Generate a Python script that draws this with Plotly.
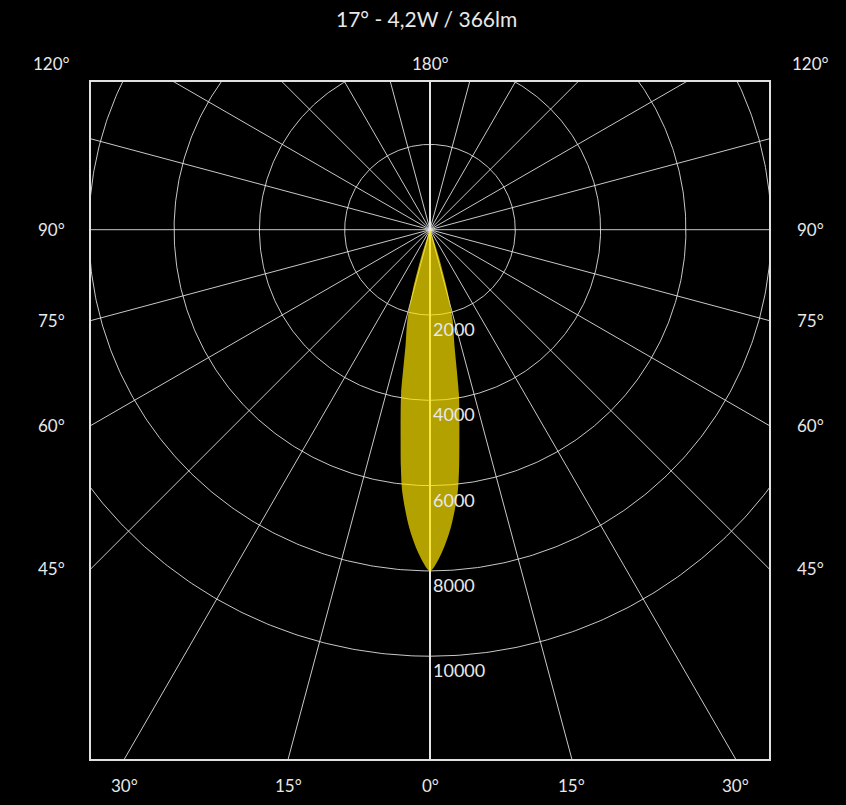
import numpy as np
import plotly.graph_objects as go

TITLE = "17° - 4,2W / 366lm"

# Luminous intensity (cd) against angle from the beam axis (deg)
beam_angles = [0, 2, 4, 6, 7, 8, 9, 10, 12, 14, 16, 18, 20, 25, 30, 45, 60, 90]
beam_intensity = [8000, 7600, 7000, 6200, 5600, 4950, 4400, 3900, 2750, 2200, 1450, 620, 170, 40, 20, 8, 3, 0]

ring_values = [2000, 4000, 6000, 8000, 10000]
ring_labels = ["2000", "4000", "6000", "8000", "10000"]
spoke_angles = list(range(0, 360, 15))
axis_angles = [0, 180]

side_angles = [90, 75, 60, 45]
side_labels = ["90°", "75°", "60°", "45°"]
bottom_angles = [-30, -15, 0, 15, 30]
bottom_labels = ["30°", "15°", "0°", "15°", "30°"]
corner_label = "120°"
top_label = "180°"

# visible window of the diagram (cd units)
X_HALF = 7948
Y_TOP = 3463
Y_BOTTOM = 12410

FONT = "Lato"
TXT = "#e8e8e8"
GRID = "rgba(235,235,235,0.85)"


def polar_xy(theta_deg, r):
    t = np.radians(np.asarray(theta_deg, dtype=float))
    r = np.asarray(r, dtype=float)
    return r * np.sin(t), -r * np.cos(t)


fig = go.Figure()

# spokes
sx, sy = [], []
for a in spoke_angles:
    if a in axis_angles:
        continue
    x1, y1 = polar_xy(a, 30000)
    sx += [0, float(x1), None]
    sy += [0, float(y1), None]
fig.add_trace(go.Scatter(x=sx, y=sy, mode="lines", line=dict(color=GRID, width=1),
                         hoverinfo="skip", showlegend=False))

# main vertical axis (0° / 180°)
ax_x, ax_y = [], []
for a in axis_angles:
    x1, y1 = polar_xy(a, 30000)
    ax_x += [0, float(x1), None]
    ax_y += [0, float(y1), None]
fig.add_trace(go.Scatter(x=ax_x, y=ax_y, mode="lines", line=dict(color="rgba(240,240,240,0.95)", width=2),
                         hoverinfo="skip", showlegend=False))

# rings
phi = np.linspace(0, 360, 721)
cx, cy = [], []
for rv in ring_values:
    x, y = polar_xy(phi, np.full_like(phi, rv))
    cx += list(x) + [None]
    cy += list(y) + [None]
fig.add_trace(go.Scatter(x=cx, y=cy, mode="lines", line=dict(color=GRID, width=1),
                         hoverinfo="skip", showlegend=False))

# beam lobe (symmetric)
ang = np.array(beam_angles, dtype=float)
inten = np.array(beam_intensity, dtype=float)
full_ang = np.concatenate([-ang[::-1], ang[1:]])
full_int = np.concatenate([inten[::-1], inten[1:]])
lx, ly = polar_xy(full_ang, full_int)
fig.add_trace(go.Scatter(x=lx, y=ly, mode="lines", fill="toself",
                         fillcolor="rgba(255,230,0,0.70)",
                         line=dict(color="rgba(255,228,0,0.0)", width=0, shape="spline", smoothing=0.8),
                         hoverinfo="skip", showlegend=False))

ann = []
# ring value labels
for rv, lab in zip(ring_values, ring_labels):
    ann.append(dict(x=0, y=-rv, xref="x", yref="y", text=lab, showarrow=False,
                    xanchor="left", yanchor="middle", xshift=1, yshift=-14,
                    font=dict(family=FONT, size=18, color=TXT)))
# side labels
for a, lab in zip(side_angles, side_labels):
    t = np.radians(a)
    yv = -X_HALF * np.cos(t) / np.sin(t)
    for px, sh in [(0, -40), (1, 41)]:
        ann.append(dict(x=px, y=float(yv), xref="paper", yref="y", text=lab, showarrow=False,
                        xanchor="center", yanchor="middle", xshift=sh,
                        font=dict(family=FONT, size=17, color=TXT)))
# bottom labels
for a, lab in zip(bottom_angles, bottom_labels):
    xv = Y_BOTTOM * np.tan(np.radians(a))
    ann.append(dict(x=float(xv), y=0, xref="x", yref="paper", text=lab, showarrow=False,
                    xanchor="center", yanchor="middle", yshift=-26,
                    font=dict(family=FONT, size=17, color=TXT)))
# top labels
for px, sh in [(0, -40), (1, 41)]:
    ann.append(dict(x=px, y=1, xref="paper", yref="paper", text=corner_label, showarrow=False,
                    xanchor="center", yanchor="middle", xshift=sh, yshift=19,
                    font=dict(family=FONT, size=17, color=TXT)))
ann.append(dict(x=0, y=1, xref="x", yref="paper", text=top_label, showarrow=False,
                xanchor="center", yanchor="middle", yshift=19,
                font=dict(family=FONT, size=17, color=TXT)))
# title
ann.append(dict(x=0.5, y=1, xref="paper", yref="paper", text=TITLE, showarrow=False,
                xanchor="center", yanchor="middle", xshift=-4, yshift=64,
                font=dict(family=FONT, size=21, color=TXT)))

axis_common = dict(showgrid=False, zeroline=False, showticklabels=False, ticks="",
                   showline=True, mirror=True, linecolor="#e0e0e0", linewidth=2,
                   fixedrange=True)

fig.update_layout(
    width=846, height=805, autosize=False,
    paper_bgcolor="#000000", plot_bgcolor="#000000",
    margin=dict(l=91, r=77, t=82, b=46),
    xaxis=dict(range=[-X_HALF, X_HALF], **axis_common),
    yaxis=dict(range=[-Y_BOTTOM, Y_TOP], **axis_common),
    annotations=ann,
    showlegend=False,
    hovermode=False,
)

fig.write_html(
    "out.html",
    config={"displayModeBar": False},
    post_script="document.body.style.margin='0';document.body.style.overflow='hidden';document.body.style.background='#000';",
)
